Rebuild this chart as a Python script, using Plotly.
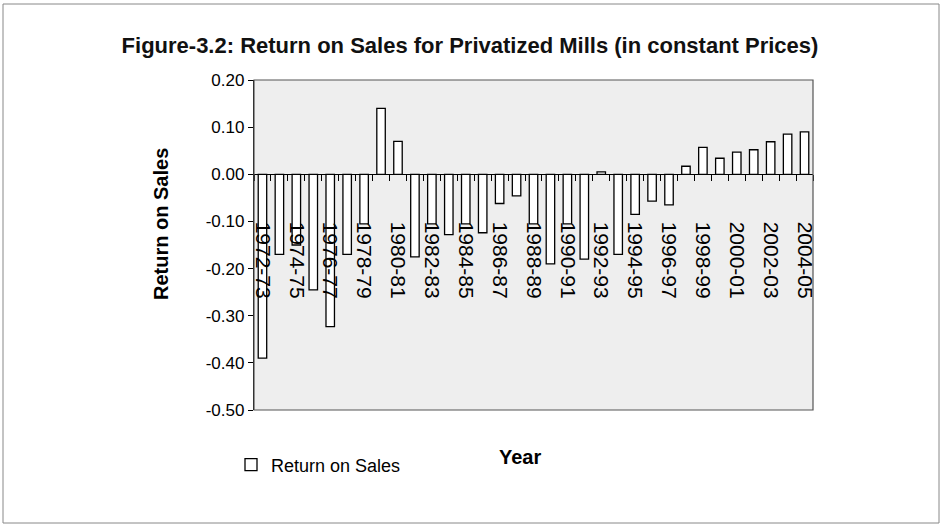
import plotly.graph_objects as go

# Financial years and return on sales (constant prices)
years = [
    "1972-73", "1973-74", "1974-75", "1975-76", "1976-77", "1977-78",
    "1978-79", "1979-80", "1980-81", "1981-82", "1982-83", "1983-84",
    "1984-85", "1985-86", "1986-87", "1987-88", "1988-89", "1989-90",
    "1990-91", "1991-92", "1992-93", "1993-94", "1994-95", "1995-96",
    "1996-97", "1997-98", "1998-99", "1999-00", "2000-01", "2001-02",
    "2002-03", "2003-04", "2004-05",
]
return_on_sales = [
    -0.39, -0.17, -0.15, -0.245, -0.323, -0.17,
    -0.105, 0.14, 0.07, -0.175, -0.105, -0.128,
    -0.105, -0.124, -0.062, -0.046, -0.105, -0.19,
    -0.105, -0.18, 0.005, -0.17, -0.085, -0.057,
    -0.065, 0.017, 0.057, 0.034, 0.047, 0.052,
    0.069, 0.085, 0.09,
]
y_ticks = [-0.5, -0.4, -0.3, -0.2, -0.1, 0.0, 0.1, 0.2]
y_tick_text = [f"{v:.2f}" for v in y_ticks]  # plain hyphen for negatives

FONT = "Liberation Sans, Arial, sans-serif"
idx = list(range(len(years)))
y_min, y_max = -0.5, 0.2

# plot area in pixels (for paper-coordinate helpers)
L, R, T, B = 254, 813, 80, 410
W, H = 943, 527
px_x = lambda p: (p - L) / (R - L)
px_y = lambda p: (B - p) / (B - T)

fig = go.Figure()
fig.add_trace(go.Bar(
    x=idx, y=return_on_sales, name="Return on Sales",
    width=0.5,
    marker=dict(color="white", line=dict(color="black", width=1.3)),
))

fig.update_layout(
    width=W, height=H,
    margin=dict(l=L, r=W - R, t=T, b=H - B),
    paper_bgcolor="white",
    plot_bgcolor="#eeeeee",
    font=dict(family=FONT, color="black"),
    title=dict(
        text="<b>Figure-3.2: Return on Sales for Privatized Mills (in constant Prices)</b>",
        font=dict(size=22, family=FONT, color="#111111"), x=470 / W, xanchor="center",
        y=1 - 45 / H, yanchor="middle", xref="container", yref="container",
    ),
    showlegend=True,
    legend=dict(
        x=px_x(231), y=px_y(465), xanchor="left", yanchor="middle",
        font=dict(size=18, family=FONT), bgcolor="rgba(0,0,0,0)",
    ),
)

fig.update_xaxes(
    range=[-0.5, len(years) - 0.5],
    tickvals=idx[::2], ticktext=years[::2],
    tickangle=90, tickfont=dict(size=21, family=FONT),
    ticks="", ticklabelstandoff=42,
    minor=dict(ticks="outside", tick0=-0.5, dtick=1, ticklen=6,
               tickcolor="black", tickwidth=1),
    showline=True, linecolor="black", linewidth=1.3,
    anchor="free", position=(0 - y_min) / (y_max - y_min),
    showgrid=False, zeroline=False,
)
fig.update_yaxes(
    range=[y_min, y_max], tickvals=y_ticks, ticktext=y_tick_text,
    tickfont=dict(size=17, family=FONT),
    ticks="outside", ticklen=5, tickcolor="black",
    showline=True, linecolor="black", linewidth=1.3,
    showgrid=False, zeroline=False,
)

# plot area frame
fig.add_shape(type="rect", xref="paper", yref="paper", x0=0, x1=1, y0=0, y1=1,
              line=dict(color="#555555", width=1.2), layer="above")
# outer chart frame
fig.add_shape(type="rect", xref="paper", yref="paper",
              x0=px_x(3), x1=px_x(939), y0=px_y(523), y1=px_y(4),
              line=dict(color="#888888", width=1))

fig.add_annotation(text="<b>Return on Sales</b>", textangle=-90,
                   x=px_x(161), y=px_y(224), xref="paper", yref="paper",
                   xanchor="center", yanchor="middle",
                   showarrow=False, font=dict(size=20, family=FONT))
fig.add_annotation(text="<b>Year</b>",
                   x=px_x(520), y=px_y(457), xref="paper", yref="paper",
                   xanchor="center", yanchor="middle",
                   showarrow=False, font=dict(size=20, family=FONT))

fig.write_html("out.html")
